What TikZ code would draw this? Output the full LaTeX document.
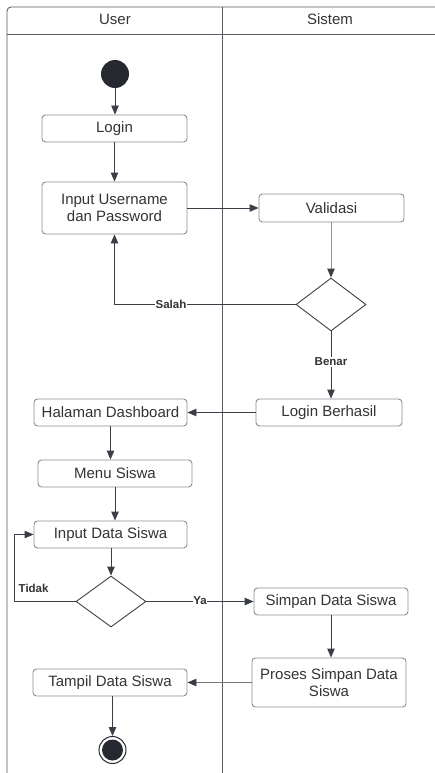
\documentclass[tikz,border=0pt]{standalone}
\usepackage{fontspec}
\setmainfont{Liberation Sans}
\usetikzlibrary{arrows.meta,shapes.geometric,calc}
\definecolor{ink}{HTML}{3A3F47}
\definecolor{boxline}{HTML}{8A8D92}
\definecolor{txt}{HTML}{333333}
\definecolor{dot}{HTML}{262A30}
\tikzset{
  act/.style={draw=boxline, line width=0.9pt, rounded corners=3.5pt, fill=white, text=txt,
    inner sep=0pt, align=center, font=\fontsize{15}{17.5}\selectfont},
  dec/.style={diamond, draw=ink, line width=0.9pt, fill=white, inner sep=0pt},
  flow/.style={draw=ink, line width=0.9pt, -{Triangle[length=9pt,width=7.5pt]}},
  softflow/.style={line width=0.9pt, -{Triangle[length=9pt,width=7.5pt,color=ink,fill=ink]}},
  lbl/.style={fill=white, inner sep=0.5pt, text=txt, font=\bfseries\fontsize{11.5}{13}\selectfont},
  lane/.style={draw=ink!85, line width=0.9pt},
  hdr/.style={text=txt, font=\fontsize{15}{17.5}\selectfont}
}
\begin{document}
\begin{tikzpicture}[x=1pt,y=-1pt]
\useasboundingbox (0,0) rectangle (435,773);
\clip (0,0) rectangle (435,773);
% swimlane frame
\draw[lane, rounded corners=4pt] (7,790) -- (7,7) -- (450,7);
\draw[lane] (7,34) -- (450,34);
\draw[lane] (222.5,7) -- (222.5,790);
\node[hdr] (hu) at (115,19) {User};
\node[hdr] (hs) at (330,19) {Sistem};

% nodes
\node[circle, fill=dot, minimum size=28pt, inner sep=0pt] (start) at (115,74) {};
\node[act, minimum width=145pt, minimum height=27pt] (login) at (114.5,128.5) {Login};
\node[act, minimum width=145pt, minimum height=52pt] (input) at (114.5,208) {Input Username\\dan Password};
\node[act, minimum width=145pt, minimum height=28pt] (valid) at (331.5,208) {Validasi};
\node[dec, minimum width=70pt, minimum height=53pt] (d1) at (331,304.5) {};
\node[act, minimum width=146pt, minimum height=27pt] (berhasil) at (329,412.5) {Login Berhasil};
\node[act, minimum width=153pt, minimum height=27pt] (dash) at (110.5,412.5) {Halaman Dashboard};
\node[act, minimum width=154pt, minimum height=27pt] (menu) at (115,473.5) {Menu Siswa};
\node[act, minimum width=153pt, minimum height=27pt] (inputdata) at (110.5,534.5) {Input Data Siswa};
\node[dec, minimum width=70pt, minimum height=51pt] (d2) at (111,601.5) {};
\node[act, minimum width=154pt, minimum height=27pt] (simpan) at (331,601.5) {Simpan Data Siswa};
\node[act, minimum width=154pt, minimum height=49pt] (proses) at (329,682.5) {Proses Simpan Data\\Siswa};
\node[act, minimum width=154pt, minimum height=27pt] (tampil) at (110,682.5) {Tampil Data Siswa};
\node[circle, draw=dot, line width=1pt, fill=white, minimum size=27pt, inner sep=0pt] (end) at (112.5,750) {};
\node[circle, fill=dot, minimum size=21pt, inner sep=0pt] (endin) at (112.5,750) {};

% connectors
\draw[flow] (start) -- (start |- login.north);
\draw[flow] (login.south -| input.north) -- (input.north);
\draw[flow] (input.east) -- (valid.west);
\draw[softflow, draw=ink!55] (valid.south -| d1.north) -- (d1.north);
\draw[flow] (d1.west) -- (d1.west -| input.south) -- (input.south);
\node[lbl] (lsalah) at (171,304) {Salah};
\draw[flow] (d1.south) -- (d1.south |- berhasil.north);
\node[lbl] (lbenar) at (331,362) {Benar};
\draw[flow] (berhasil.west) -- (dash.east);
\draw[flow] (dash.south) -- (dash.south |- menu.north);
\draw[flow] (menu.south) -- (menu.south |- inputdata.north);
\draw[flow] (inputdata.south -| d2.north) -- (d2.north);
\coordinate (tk) at (14,0);
\draw[flow] (d2.west) -- (d2.west -| tk) |- (inputdata.west);
\node[lbl, fill=none, anchor=west] (ltidak) at (18,588) {Tidak};
\draw[flow] (d2.east) -- (simpan.west);
\node[lbl] (lya) at (200,601) {Ya};
\draw[flow] (simpan.south) -- (simpan.south |- proses.north);
\draw[softflow, draw=ink!70] (proses.west) -- (tampil.east);
\draw[flow] (tampil.south -| end.north) -- (end.north);
\end{tikzpicture}
\end{document}
